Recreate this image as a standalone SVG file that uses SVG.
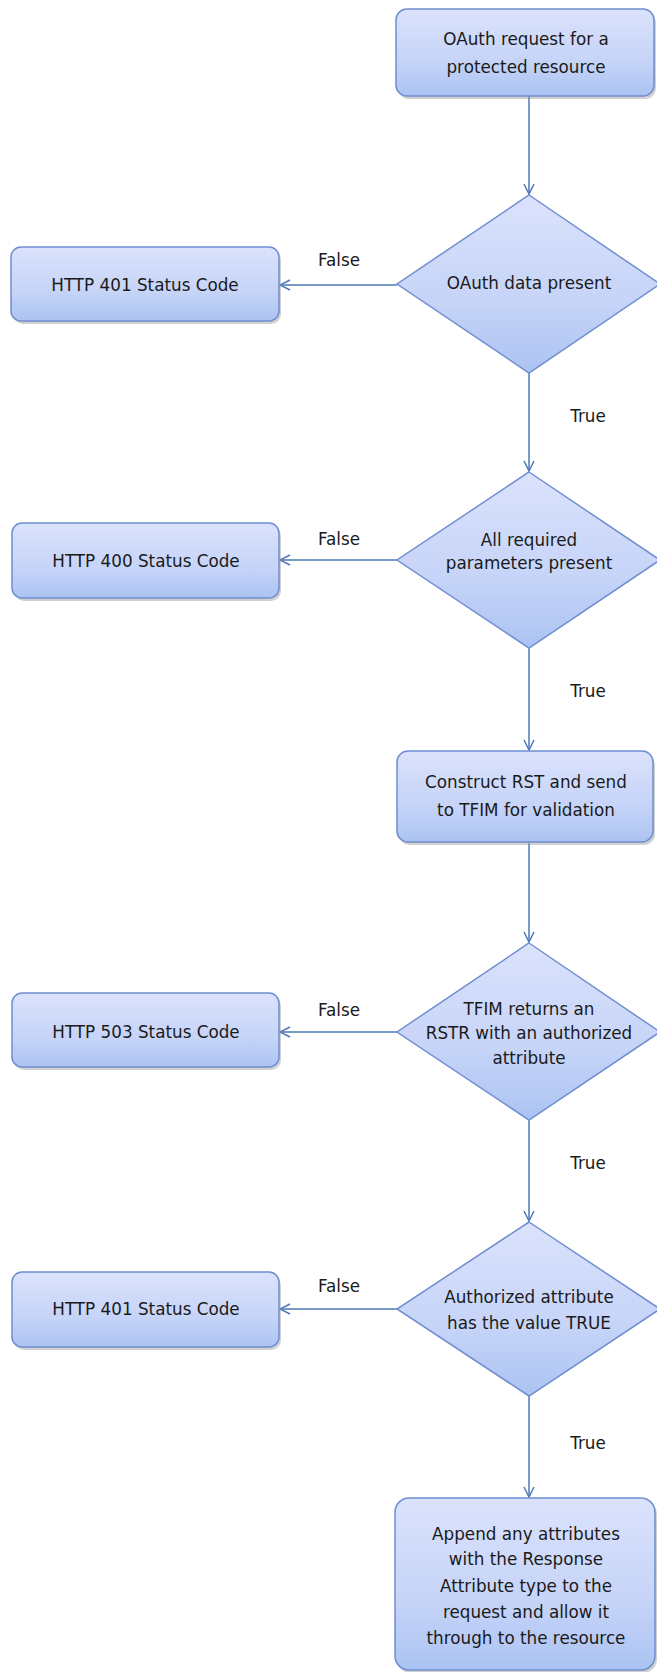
<svg xmlns="http://www.w3.org/2000/svg" width="657" height="1672" viewBox="0 0 657 1672">
<defs>
<linearGradient id="g" x1="0" y1="0" x2="0" y2="1">
<stop offset="0" stop-color="#dbe2fc"/>
<stop offset="0.6" stop-color="#c6d4f8"/>
<stop offset="1" stop-color="#abc3f2"/>
</linearGradient>
<marker id="ah" viewBox="0 0 12 12" refX="11" refY="6" markerWidth="12" markerHeight="12" markerUnits="userSpaceOnUse" orient="auto">
<path d="M1,1 L11,6 L1,11" fill="none" stroke="#4f78b8" stroke-width="1.5"/>
</marker>
</defs>
<style>
.n{fill:url(#g);stroke:#6f8ed0;stroke-width:1.5}
.sh{fill:#9a9a9a;opacity:0.45}
.t{font-family:"DejaVu Sans",sans-serif;font-size:16.8px;fill:#1a1a1a;text-anchor:middle;dominant-baseline:central}
.c{fill:none;stroke:#4f78b8;stroke-width:1.5;marker-end:url(#ah)}
</style>
<rect width="657" height="1672" fill="#fff"/>
<g id="connectors">
<line class="c" x1="529" y1="96" x2="529" y2="194"/>
<line class="c" x1="529" y1="373" x2="529" y2="471"/>
<line class="c" x1="529" y1="648" x2="529" y2="750"/>
<line class="c" x1="529" y1="843" x2="529" y2="942"/>
<line class="c" x1="529" y1="1120" x2="529" y2="1221"/>
<line class="c" x1="529" y1="1396" x2="529" y2="1497"/>
<line class="c" x1="397" y1="285" x2="280" y2="285"/>
<line class="c" x1="397" y1="560" x2="280" y2="560"/>
<line class="c" x1="397" y1="1032" x2="280" y2="1032"/>
<line class="c" x1="397" y1="1309" x2="280" y2="1309"/>
<text class="t" x="339" y="260">False</text>
<text class="t" x="339" y="539">False</text>
<text class="t" x="339" y="1010">False</text>
<text class="t" x="339" y="1286">False</text>
<text class="t" x="588" y="416">True</text>
<text class="t" x="588" y="691">True</text>
<text class="t" x="588" y="1163">True</text>
<text class="t" x="588" y="1443">True</text>
</g>
<g id="start">
<rect class="sh" x="398" y="12" width="258" height="87" rx="11"/>
<rect class="n" x="396" y="9" width="258" height="87" rx="11"/>
<text class="t" x="526" y="39">OAuth request for a</text>
<text class="t" x="526" y="67">protected resource</text>
</g>
<g id="d1">
<polygon class="n" points="529,195 660,284 529,373 397,284"/>
<text class="t" x="529" y="283">OAuth data present</text>
</g>
<g id="e1">
<rect class="sh" x="13" y="250" width="268" height="74" rx="10"/>
<rect class="n" x="11" y="247" width="268" height="74" rx="10"/>
<text class="t" x="145" y="285">HTTP 401 Status Code</text>
</g>
<g id="d2">
<polygon class="n" points="529,472 660,560 529,648 397,560"/>
<text class="t" x="529" y="540">All required</text>
<text class="t" x="529" y="563">parameters present</text>
</g>
<g id="e2">
<rect class="sh" x="14" y="526" width="267" height="75" rx="10"/>
<rect class="n" x="12" y="523" width="267" height="75" rx="10"/>
<text class="t" x="146" y="561">HTTP 400 Status Code</text>
</g>
<g id="construct">
<rect class="sh" x="399" y="754" width="256" height="91" rx="11"/>
<rect class="n" x="397" y="751" width="256" height="91" rx="11"/>
<text class="t" x="526" y="782">Construct  RST and send</text>
<text class="t" x="526" y="810">to TFIM for validation</text>
</g>
<g id="d3">
<polygon class="n" points="529,943 660,1032 529,1120 397,1032"/>
<text class="t" x="529" y="1009">TFIM returns an</text>
<text class="t" x="529" y="1033">RSTR with  an authorized</text>
<text class="t" x="529" y="1058">attribute</text>
</g>
<g id="e3">
<rect class="sh" x="14" y="996" width="267" height="74" rx="10"/>
<rect class="n" x="12" y="993" width="267" height="74" rx="10"/>
<text class="t" x="146" y="1032">HTTP 503 Status Code</text>
</g>
<g id="d4">
<polygon class="n" points="529,1222 660,1309 529,1396 397,1309"/>
<text class="t" x="529" y="1297">Authorized  attribute</text>
<text class="t" x="529" y="1323">has the value TRUE</text>
</g>
<g id="e4">
<rect class="sh" x="14" y="1275" width="267" height="75" rx="10"/>
<rect class="n" x="12" y="1272" width="267" height="75" rx="10"/>
<text class="t" x="146" y="1309">HTTP 401 Status Code</text>
</g>
<g id="end">
<rect class="sh" x="397" y="1501" width="260" height="172" rx="14"/>
<rect class="n" x="395" y="1498" width="260" height="172" rx="14"/>
<text class="t" x="526" y="1534">Append  any attributes</text>
<text class="t" x="526" y="1559">with  the Response</text>
<text class="t" x="526" y="1586">Attribute  type to the</text>
<text class="t" x="526" y="1612">request and allow  it</text>
<text class="t" x="526" y="1638">through  to the resource</text>
</g>
</svg>
